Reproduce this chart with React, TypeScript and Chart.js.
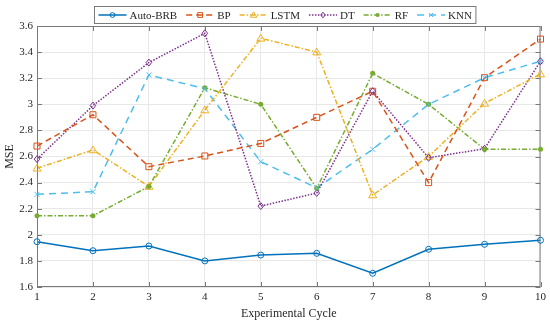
import React, { useEffect, useRef } from "react";
import { Chart, registerables } from "chart.js";

Chart.register(...registerables);

const cycles = ["1", "2", "3", "4", "5", "6", "7", "8", "9", "10"];
const autoBRB = [1.947, 1.878, 1.914, 1.8, 1.845, 1.858, 1.705, 1.889, 1.927, 1.958];
const bp = [2.68, 2.92, 2.522, 2.604, 2.7, 2.9, 3.1, 2.4, 3.204, 3.5];
const lstm = [2.51, 2.65, 2.37, 2.956, 3.506, 3.4, 2.305, 2.6, 3.007, 3.232];
const dt = [2.58, 2.99, 3.32, 3.544, 2.22, 2.32, 3.1, 2.59, 2.66, 3.33];
const rf = [2.146, 2.146, 2.37, 3.127, 3.0, 2.356, 3.237, 3.0, 2.655, 2.655];
const knn = [2.31, 2.33, 3.225, 3.12, 2.56, 2.36, 2.655, 3.0, 3.204, 3.33];
const yTicks = [1.6, 1.8, 2, 2.2, 2.4, 2.6, 2.8, 3, 3.2, 3.4, 3.6];

const FONT = '"Liberation Serif", "DejaVu Serif", serif';

function drawMarker(ctx: CanvasRenderingContext2D, style: string, x: number, y: number, r: number, color: string) {
  ctx.save();
  ctx.setLineDash([]);
  ctx.strokeStyle = color;
  ctx.fillStyle = color;
  ctx.lineWidth = 1;
  ctx.beginPath();
  if (style === "circle") {
    ctx.arc(x, y, r, 0, Math.PI * 2);
    ctx.stroke();
  } else if (style === "dot") {
    ctx.arc(x, y, r, 0, Math.PI * 2);
    ctx.fill();
  } else if (style === "rect") {
    ctx.rect(x - r, y - r, 2 * r, 2 * r);
    ctx.stroke();
  } else if (style === "triangle") {
    ctx.moveTo(x, y - r);
    ctx.lineTo(x + r, y + r * 0.7);
    ctx.lineTo(x - r, y + r * 0.7);
    ctx.closePath();
    ctx.stroke();
  } else if (style === "rectRot") {
    ctx.moveTo(x, y - r);
    ctx.lineTo(x + r * 0.8, y);
    ctx.lineTo(x, y + r);
    ctx.lineTo(x - r * 0.8, y);
    ctx.closePath();
    ctx.stroke();
  } else if (style === "crossRot") {
    ctx.moveTo(x - r, y - r);
    ctx.lineTo(x + r, y + r);
    ctx.moveTo(x + r, y - r);
    ctx.lineTo(x - r, y + r);
    ctx.stroke();
  }
  ctx.restore();
}

const series = [
  { label: "Auto-BRB", data: autoBRB, color: "#0072BD", dash: [] as number[], marker: "circle", r: 3 },
  { label: "BP", data: bp, color: "#D95319", dash: [6, 4], marker: "rect", r: 3 },
  { label: "LSTM", data: lstm, color: "#EDB120", dash: [5, 2, 1.5, 2], marker: "triangle", r: 4 },
  { label: "DT", data: dt, color: "#7E2F8E", dash: [1.5, 1.5], marker: "rectRot", r: 3.5 },
  { label: "RF", data: rf, color: "#77AC30", dash: [5, 2, 1.5, 2], marker: "dot", r: 2.5 },
  { label: "KNN", data: knn, color: "#4DBEEE", dash: [7, 5], marker: "crossRot", r: 2.5 },
];

const framePlugin = {
  id: "frame",
  afterDatasetsDraw(chart: any) {
    const { ctx, chartArea: a, scales } = chart;
    ctx.save();
    ctx.strokeStyle = "#7a7a7a";
    ctx.lineWidth = 1;
    ctx.setLineDash([]);
    ctx.strokeRect(a.left + 0.5, a.top + 0.5, a.right - a.left - 1, a.bottom - a.top - 1);
    ctx.beginPath();
    const tl = 5;
    scales.x.ticks.forEach((_: any, i: number) => {
      const px = Math.round(scales.x.getPixelForTick(i)) + 0.5;
      ctx.moveTo(px, a.bottom);
      ctx.lineTo(px, a.bottom - tl);
      ctx.moveTo(px, a.top);
      ctx.lineTo(px, a.top + tl);
    });
    scales.y.ticks.forEach((_: any, i: number) => {
      const py = Math.round(scales.y.getPixelForTick(i)) + 0.5;
      ctx.moveTo(a.left, py);
      ctx.lineTo(a.left + tl, py);
      ctx.moveTo(a.right, py);
      ctx.lineTo(a.right - tl, py);
    });
    ctx.stroke();
    ctx.restore();
  },
};

const legendPlugin = {
  id: "boxLegend",
  afterDraw(chart: any) {
    const ctx: CanvasRenderingContext2D = chart.ctx;
    ctx.save();
    ctx.font = `11px ${FONT}`;
    const sample = 28;
    const gapText = 3;
    const gapItem = 9;
    const padX = 4;
    const items = chart.data.datasets.map((ds: any, i: number) => ({ ds, s: series[i], w: ctx.measureText(ds.label).width }));
    const total = items.reduce((acc: number, it: any) => acc + sample + gapText + it.w, 0) + gapItem * (items.length - 1) + padX * 2;
    const cx = 284.5;
    const x0 = Math.round(cx - total / 2) + 0.5;
    const y0 = 6.5;
    const h = 17;
    ctx.fillStyle = "#ffffff";
    ctx.fillRect(x0, y0, total, h);
    ctx.strokeStyle = "#7a7a7a";
    ctx.lineWidth = 1;
    ctx.strokeRect(x0, y0, total, h);
    let x = x0 + padX;
    const cy = y0 + h / 2;
    items.forEach((it: any) => {
      ctx.save();
      ctx.strokeStyle = it.s.color;
      ctx.lineWidth = 1.5;
      ctx.setLineDash(it.s.dash);
      ctx.beginPath();
      ctx.moveTo(x, cy);
      ctx.lineTo(x + sample, cy);
      ctx.stroke();
      ctx.restore();
      drawMarker(ctx, it.s.marker, x + sample / 2, cy, it.s.r * 0.8, it.s.color);
      x += sample + gapText;
      ctx.fillStyle = "#262626";
      ctx.textBaseline = "middle";
      ctx.textAlign = "left";
      ctx.fillText(it.ds.label, x, cy + 1);
      x += it.w + gapItem;
    });
    ctx.restore();
  },
};

export default function App() {
  const ref = useRef<HTMLCanvasElement | null>(null);
  useEffect(() => {
    document.body.style.margin = "0";
    if (!ref.current) return;
    const chart = new Chart(ref.current, {
      type: "line",
      data: {
        labels: cycles,
        datasets: series.map((s) => ({
          label: s.label,
          data: s.data,
          borderColor: s.color,
          backgroundColor: s.color,
          borderWidth: 1.5,
          borderDash: s.dash,
          pointRadius: 0,
          fill: false,
          tension: 0,
        })),
      },
      options: {
        animation: false,
        responsive: false,
        layout: { padding: { left: 0, right: 7, top: 26, bottom: 0 } },
        plugins: { legend: { display: false }, tooltip: { enabled: false } },
        scales: {
          x: {
            offset: false,
            grid: { color: "#e8e8e8", drawTicks: false },
            border: { display: false },
            ticks: { color: "#262626", font: { family: FONT, size: 11 }, padding: 4, maxRotation: 0 },
            title: { display: true, text: "Experimental Cycle", color: "#262626", font: { family: FONT, size: 12 }, padding: { top: 2, bottom: 3 } },
            afterFit: (s: any) => { s.height = 37; },
          },
          y: {
            min: 1.6,
            max: 3.6,
            afterBuildTicks: (s: any) => { s.ticks = yTicks.map((v) => ({ value: v })); },
            grid: { color: "#e8e8e8", drawTicks: false },
            border: { display: false },
            ticks: { color: "#262626", font: { family: FONT, size: 11 }, padding: 4, callback: (v: any) => String(Math.round(Number(v) * 10) / 10) },
            title: { display: true, text: "MSE", color: "#262626", font: { family: FONT, size: 12 }, padding: { top: 3, bottom: 2 } },
            afterFit: (s: any) => { s.width = 37; },
          },
        },
      },
      plugins: [
        framePlugin,
        {
          id: "markers",
          afterDatasetsDraw(chart: any) {
            const ctx = chart.ctx;
            chart.data.datasets.forEach((_: any, i: number) => {
              const meta = chart.getDatasetMeta(i);
              meta.data.forEach((p: any) => drawMarker(ctx, series[i].marker, p.x, p.y, series[i].r, series[i].color));
            });
          },
        },
        legendPlugin,
      ],
    });
    return () => chart.destroy();
  }, []);
  return (
    <div style={{ width: 550, height: 324 }}>
      <canvas ref={ref} width={550} height={324} style={{ display: "block" }} />
    </div>
  );
}
